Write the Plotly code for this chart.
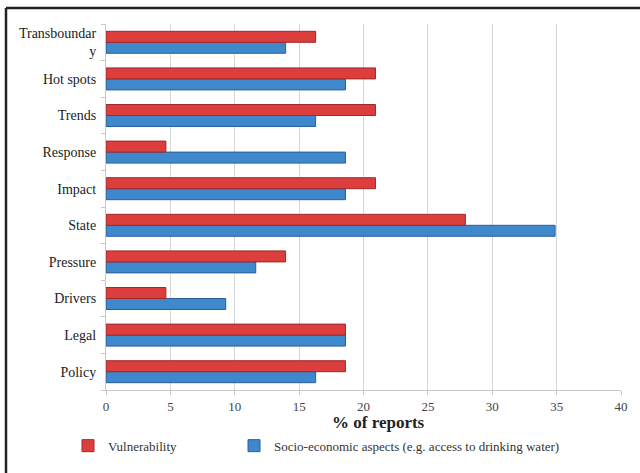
import plotly.graph_objects as go

categories = ["Policy", "Legal", "Drivers", "Pressure", "State", "Impact",
              "Response", "Trends", "Hot spots", "Transboundary"]
tick_labels = ["Policy", "Legal", "Drivers", "Pressure", "State", "Impact",
               "Response", "Trends", "Hot spots", "Transboundar<br>y"]
vulnerability = [18.60, 18.60, 4.65, 13.95, 27.91, 20.93, 4.65, 20.93, 20.93, 16.28]
socio_economic = [16.28, 18.60, 9.30, 11.63, 34.88, 18.60, 18.60, 16.28, 18.60, 13.95]
x_ticks = [0, 5, 10, 15, 20, 25, 30, 35, 40]

FONT = "Liberation Serif"

fig = go.Figure()
fig.add_trace(go.Bar(
    y=categories, x=socio_economic, orientation="h",
    name="Socio-economic aspects (e.g. access to drinking water)",
    marker=dict(color="#3f88cc", line=dict(color="#2a5f99", width=1)),
    legend="legend2",
))
fig.add_trace(go.Bar(
    y=categories, x=vulnerability, orientation="h",
    name="Vulnerability",
    marker=dict(color="#dc3e3e", line=dict(color="#a02828", width=1)),
    legend="legend",
))

legend_common = dict(
    orientation="h", yanchor="middle", y=(392 - 448) / 368, xanchor="left",
    font=dict(family=FONT, size=13, color="#333333"),
    itemwidth=30, bgcolor="rgba(0,0,0,0)",
)

fig.update_layout(
    width=640, height=473,
    margin=dict(l=106, r=19, t=24, b=81),
    paper_bgcolor="white", plot_bgcolor="white",
    barmode="group", bargap=0.40, bargroupgap=0,
    font=dict(family=FONT, color="#333333"),
    showlegend=True,
    legend=dict(x=(68 - 106) / 515, **legend_common),
    legend2=dict(x=(234 - 106) / 515, **legend_common),
    xaxis=dict(
        range=[0, 40], tickvals=x_ticks, ticktext=[str(v) for v in x_ticks],
        showgrid=True, gridcolor="#d6d6d6", gridwidth=1,
        showline=True, linecolor="#c8c8c8", linewidth=1,
        ticks="outside", ticklen=4, tickcolor="#c8c8c8",
        tickfont=dict(family=FONT, size=13, color="#444444"),
        zeroline=False, fixedrange=True,
    ),
    yaxis=dict(
        type="category", categoryorder="array", categoryarray=categories,
        tickvals=categories, ticktext=tick_labels,
        showline=True, linecolor="#c8c8c8", linewidth=1,
        ticks="outside", ticklen=4, tickcolor="#c8c8c8", tickson="boundaries",
        tickfont=dict(family=FONT, size=14, color="#222222"),
        showgrid=False, ticklabelstandoff=6,
    ),
    annotations=[dict(
        text="<b>% of reports</b>", xref="paper", yref="paper",
        x=(378 - 106) / 515, y=(392 - 425) / 368, xanchor="center", yanchor="middle",
        showarrow=False, font=dict(family=FONT, size=17, color="#222222"),
    )],
    shapes=[
        dict(type="line", xref="paper", yref="paper",
             x0=(6 - 106) / 515, x1=(6 - 106) / 515,
             y0=(392 - 8) / 368, y1=(392 - 480) / 368,
             line=dict(color="#222222", width=2.5)),
        dict(type="line", xref="paper", yref="paper",
             x0=(6 - 106) / 515, x1=(650 - 106) / 515,
             y0=(392 - 8) / 368, y1=(392 - 8) / 368,
             line=dict(color="#222222", width=2.5)),
    ],
)

fig.write_html(
    "out.html",
    config={"displayModeBar": False},
    post_script="document.body.style.margin='0';document.body.style.padding='0';"
                "document.body.style.overflow='hidden';",
)
